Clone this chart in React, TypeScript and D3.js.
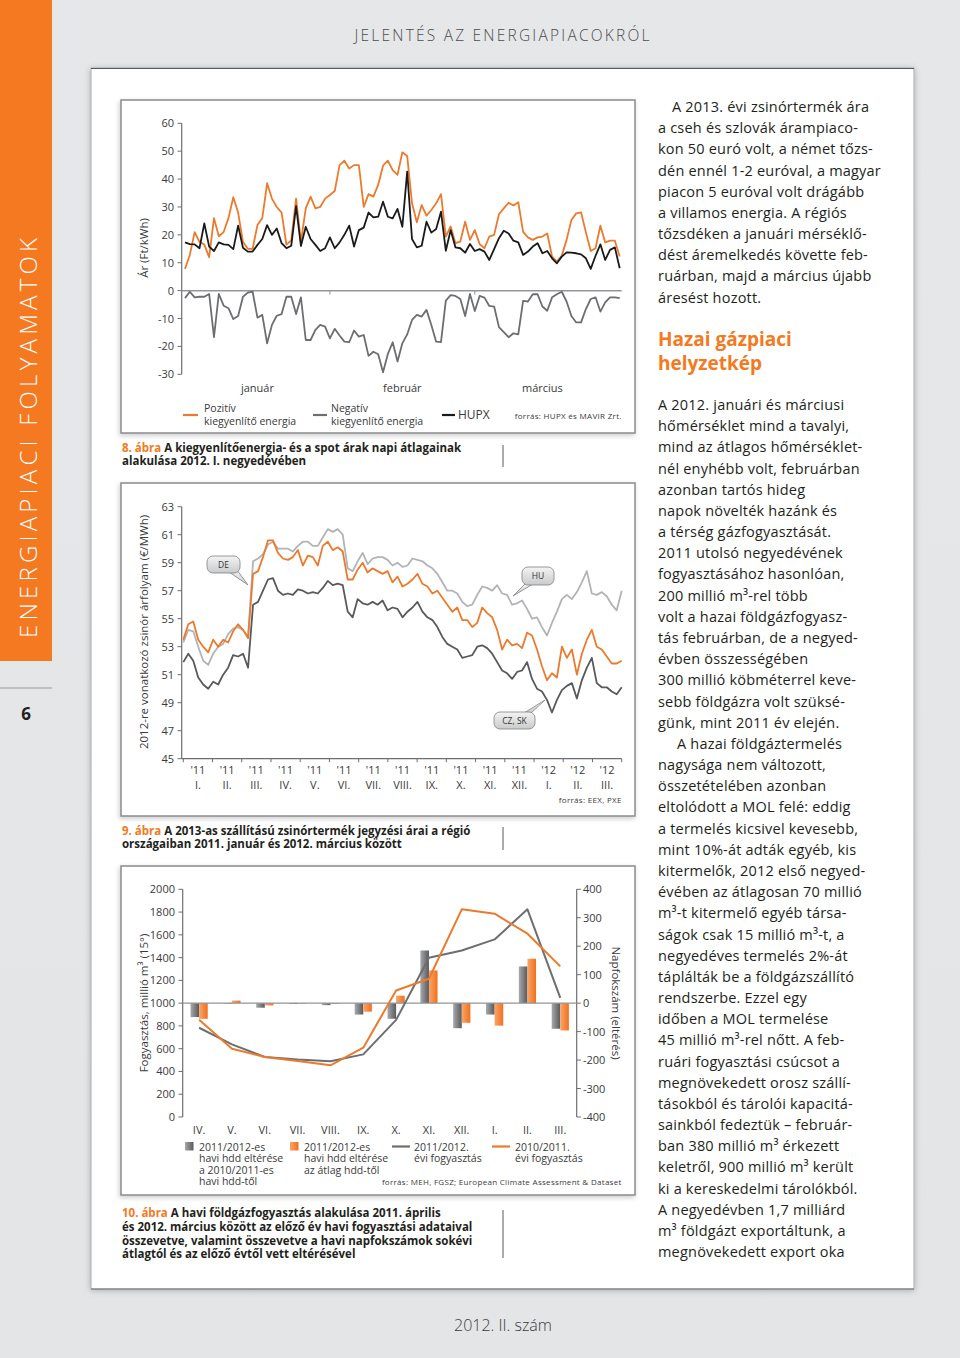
import React from 'react';
import * as d3 from 'd3';

// ---------- Chart 8: daily balancing & spot prices, 2012 Q1 (Ft/kWh) ----------
const pozitiv = [7.8,12.8,21,17.5,16.5,12,26,19.5,21,26,33.5,28,17.5,15,15,23.5,26,38.5,33,30,28,16.5,18,33,17.5,29.5,33.7,29.5,30,33,34.3,35.7,45,46.6,43.8,45,45,30,34.6,33.7,37.9,44.8,46.6,43.2,41.5,49.6,48.3,31.3,24.5,30.7,26.9,28.9,31.3,34.6,19.4,23,17,17.6,24.7,18.2,21.7,16.7,15.2,19.4,20,27.4,29.5,31.5,30.5,31.7,21.1,19.1,18.2,19.1,19.4,20.5,12.2,10.4,12.5,18.2,25.3,27.7,28.1,20.9,14.2,15.2,23.3,17.3,17.9,17.9,12.2];
const hupx = [17.3,16.7,16.6,15.2,24.1,15.8,14.2,17.3,16.6,16.4,14.9,23.3,15.4,14,14,16.4,18.5,23.5,20,22.3,17,15.2,16.1,30.3,16,22.9,18.5,16.4,14.2,15.2,19.1,15.2,17.3,20,23.3,15.8,21.7,22.6,28,26.3,26.5,31.9,26.5,25.9,29.3,22.9,42.7,18.5,15.5,16.1,24.7,20.8,22.1,28.3,14.3,21.7,15.5,15.2,13.6,16.7,14.2,14.9,14,11,14.9,18.8,21.5,20.5,17.9,17.3,12.8,14,15.8,17,13.4,14.2,11.6,9.8,12.2,13.7,13.6,13.4,13,11.6,7.8,12.5,16.6,11,14.6,15.5,8];
const negativ = [-2.7,-0.4,-2.4,-2.2,-2.2,-1.2,-16.7,-1.2,-5.4,-6.3,-10.2,-9.1,-2.2,-0.7,-0.4,-9.7,-8.7,-18.9,-12.3,-9,-8.4,-2.2,-2.2,-8.4,-2.4,-17.7,-17.7,-14.1,-12.3,-12.9,-17.1,-13.7,-16.1,-18.3,-18.5,-14.3,-16.5,-15.9,-23.4,-21.9,-22.8,-29.3,-22.7,-18.5,-25.4,-18.9,-15.7,-10.5,-8.7,-9.3,-6.9,-12.3,-18.3,-18.5,-3.6,-1.6,-1.9,-3,-9.1,-1.2,-7.3,-1.9,-2.5,-5.5,-5.7,-13.1,-14.9,-16.7,-15.3,-15.7,-3.7,-3.9,-1.3,-1.3,-5.7,-7.2,-2.4,-1.3,-0.4,-3.9,-9.1,-11.4,-11.4,-6.6,-3,-2.4,-7.5,-4.2,-2.4,-2.4,-2.7];
const ticks8 = [-30,-20,-10,0,10,20,30,40,50,60];
const monthNames8 = ['január','február','március'];
const monthCenters8 = [15, 45, 74];
const monthBoundaries8 = [30, 60];

// ---------- Chart 9: 2013 baseload futures, Jan 2011 – Mar 2012 (€/MWh) ----------
const deSeries = [53.5,54.6,54.8,53.5,53.0,52.6,53.5,53.0,53.5,53.3,54.1,54.6,54.2,53.6,58.2,58.4,59.4,60.6,60.6,59.7,59.3,59.2,59.4,59.9,58.8,59.5,59.4,58.8,60.2,60.5,59.9,60.1,59.8,57.8,57.8,58.5,59.0,58.3,58.6,58.4,58.2,58.4,57.6,58.0,57.3,57.5,57.8,58.2,57.5,57.3,56.8,57.0,56.5,56.0,55.5,55.8,54.9,54.9,54.4,54.7,55.8,55.4,55.1,54.2,52.8,53.5,53.1,53.2,52.9,54.0,53.8,52.8,51.6,50.6,51.1,50.8,53.0,52.2,52.8,51.0,52.5,53.5,54.2,53.0,52.8,52.3,51.8,51.8,52.0];
const huSeries = [53.3,54.2,54.1,53.0,52.0,51.7,52.5,53.0,53.2,53.9,54.3,54.4,54.2,53.7,59.1,59.3,59.6,60.3,60.5,60.0,60.0,60.0,59.8,60.2,60.5,60.5,60.2,60.2,60.8,61.4,61.2,61.4,61.0,58.6,58.4,59.1,59.7,58.9,59.3,59.4,59.4,59.2,58.8,59.0,58.7,58.8,59.3,59.2,59.1,58.8,58.6,58.2,57.6,57.0,57.0,56.8,56.2,55.9,56.0,56.7,57.3,57.2,57.0,57.4,56.8,56.7,56.0,56.1,56.3,55.7,55.0,55.1,54.4,53.8,54.7,55.5,56.4,56.7,56.4,56.9,57.6,58.4,56.8,56.7,56.9,56.6,56.0,55.6,57.0];
const czskSeries = [51.9,52.5,52.0,50.8,50.3,50.0,50.5,50.3,51.0,51.5,52.4,52.3,52.5,51.5,56.0,56.2,57.0,57.8,57.9,57.0,56.7,56.8,56.7,57.1,57.0,56.8,56.9,56.8,57.2,57.7,57.4,57.5,57.4,55.5,55.1,56.4,56.1,56.0,56.2,56.0,56.3,55.6,55.8,55.7,55.1,55.5,55.8,56.2,55.5,55.1,54.9,54.4,53.7,53.2,53.0,52.8,52.2,52.3,52.4,53.0,53.1,52.9,52.5,51.9,51.3,51.1,50.7,51.2,51.3,51.9,50.7,50.0,49.8,49.2,48.3,49.2,49.9,50.2,50.4,49.3,50.6,51.5,52.2,50.4,50.1,50.1,49.8,49.6,50.1];
const ticks9 = [45,47,49,51,53,55,57,59,61,63];
const yearLabels9 = ["'11","'11","'11","'11","'11","'11","'11","'11","'11","'11","'11","'11","'12","'12","'12"];
const romanLabels9 = ['I.','II.','III.','IV.','V.','VI.','VII.','VIII.','IX.','X.','XI.','XII.','I.','II.','III.'];

// ---------- Chart 10: monthly gas consumption, Apr 2011 – Mar 2012 ----------
const months10 = ['IV.','V.','VI.','VII.','VIII.','IX.','X.','XI.','XII.','I.','II.','III.'];
const hddVsPrev = [-49,-2,-16,-3,-7,-40,-55,185,-88,-40,129,-90];
const hddVsAvg = [-55,9,-8,-2,-3,-30,26,115,-69,-79,156,-96];
const cons1112 = [784,638,527,504,489,550,853,1399,1463,1560,1824,1047];
const cons1011 = [854,600,527,492,454,609,1111,1214,1824,1786,1610,1323];
const ticks10L = [0,200,400,600,800,1000,1200,1400,1600,1800,2000];
const ticks10R = [-400,-300,-200,-100,0,100,200,300,400];

// ---------- Right column text ----------
const para1 = ['A 2013. évi zsinórtermék ára','a cseh és szlovák árampiaco-','kon 50 euró volt, a német tőzs-','dén ennél 1-2 euróval, a magyar','piacon 5 euróval volt drágább','a villamos energia. A régiós','tőzsdéken a januári mérséklő-','dést áremelkedés követte feb-','ruárban, majd a március újabb','áresést hozott.'];
const heading = ['Hazai gázpiaci','helyzetkép'];
const para2 = ['A 2012. januári és márciusi','hőmérséklet mind a tavalyi,','mind az átlagos hőmérséklet-','nél enyhébb volt, februárban','azonban tartós hideg','napok növelték hazánk és','a térség gázfogyasztását.','2011 utolsó negyedévének','fogyasztásához hasonlóan,','200 millió m³-rel több','volt a hazai földgázfogyasz-','tás februárban, de a negyed-','évben összességében','300 millió köbméterrel keve-','sebb földgázra volt szüksé-','günk, mint 2011 év elején.'];
const para3 = ['A hazai földgáztermelés','nagysága nem változott,','összetételében azonban','eltolódott a MOL felé: eddig','a termelés kicsivel kevesebb,','mint 10%-át adták egyéb, kis','kitermelők, 2012 első negyed-','évében az átlagosan 70 millió','m³-t kitermelő egyéb társa-','ságok csak 15 millió m³-t, a','negyedéves termelés 2%-át','táplálták be a földgázszállító','rendszerbe. Ezzel egy','időben a MOL termelése','45 millió m³-rel nőtt. A feb-','ruári fogyasztási csúcsot a','megnövekedett orosz szállí-','tásokból és tárolói kapacitá-','sainkból fedeztük – február-','ban 380 millió m³ érkezett','keletről, 900 millió m³ került','ki a kereskedelmi tárolókból.','A negyedévben 1,7 milliárd','m³ földgázt exportáltunk, a','megnövekedett export oka'];

const FONT = "'Open Sans', 'DejaVu Sans', sans-serif";
const ORANGE = '#f47920';
const LINE_OR = '#ec7a2c';
const TXT = '#231f20';
const AX = '#6d6e71';

function Bubble({ x, y, w, h, tail, label }: { x: number; y: number; w: number; h: number; tail: [number, number][]; label: string }) {
  const tailPath = 'M' + tail.map(p => p.join(',')).join('L') + 'Z';
  return (
    <g>
      <path d={tailPath} fill="url(#bubbleGrad)" stroke="#808285" strokeWidth={0.8} />
      <rect x={x} y={y} width={w} height={h} rx={6} fill="url(#bubbleGrad)" stroke="#808285" strokeWidth={0.8} />
      <text x={x + w / 2} y={y + h / 2 + 3} textAnchor="middle" fontSize={8.5} fill="#333">{label}</text>
    </g>
  );
}

export default function App() {
  // chart 8 scales
  const x8 = d3.scaleLinear().domain([0, pozitiv.length - 1]).range([185, 619.7]);
  const y8 = d3.scaleLinear().domain([-30, 60]).range([374.3, 123.3]);
  const line8 = d3.line<number>().x((_, i) => x8(i)).y(d => y8(d));

  // chart 9 scales
  const x9 = d3.scaleLinear().domain([0, 15]).range([183.3, 621.7]);
  const y9 = d3.scaleLinear().domain([45, 63]).range([758.7, 506.7]);
  const line9 = (arr: number[]) => d3.line<number>().x((_, i) => x9((i * 15) / (arr.length - 1))).y(d => y9(d))(arr) || '';

  // chart 10 scales
  const xb = d3.scaleBand<string>().domain(months10).range([182.7, 576.7]);
  const yL = d3.scaleLinear().domain([0, 2000]).range([1117, 889.3]);
  const yR = d3.scaleLinear().domain([-400, 400]).range([1117, 889.3]);
  const cx = (m: string) => (xb(m) || 0) + xb.bandwidth() / 2;
  const line10 = (arr: number[]) => d3.line<number>().x((_, i) => cx(months10[i])).y(d => yL(d))(arr) || '';
  const barW = 8.6;

  const lh = 21.18;

  return (
    <svg width={960} height={1358} viewBox="0 0 960 1358" style={{ position: 'absolute', left: 0, top: 0, fontFamily: FONT }}>
      <defs>
        <linearGradient id="bgGrad" x1="0" y1="0" x2="0" y2="1">
          <stop offset="0" stopColor="#e6e7e8" />
          <stop offset="1" stopColor="#e4e5e6" />
        </linearGradient>
        <linearGradient id="bubbleGrad" x1="0" y1="0" x2="0" y2="1">
          <stop offset="0" stopColor="#f4f4f4" />
          <stop offset="1" stopColor="#c9cacb" />
        </linearGradient>
        <linearGradient id="greyBar" x1="0" y1="0" x2="1" y2="0">
          <stop offset="0" stopColor="#a7a9ac" />
          <stop offset="1" stopColor="#58595b" />
        </linearGradient>
        <linearGradient id="orangeBar" x1="0" y1="0" x2="1" y2="0">
          <stop offset="0" stopColor="#f9a66a" />
          <stop offset="1" stopColor="#f26f1d" />
        </linearGradient>
        <filter id="shadow" x="-5%" y="-5%" width="110%" height="110%">
          <feDropShadow dx="0" dy="1" stdDeviation="3" floodColor="#000" floodOpacity="0.25" />
        </filter>
        <filter id="shadowS" x="-5%" y="-5%" width="110%" height="110%">
          <feDropShadow dx="-1" dy="2" stdDeviation="2.5" floodColor="#000" floodOpacity="0.2" />
        </filter>
      </defs>

      {/* page background */}
      <rect x={0} y={0} width={960} height={1358} fill="url(#bgGrad)" />
      {/* sidebar */}
      <rect x={0} y={0} width={52} height={661} fill={ORANGE} />
      <text transform="translate(37,638) rotate(-90)" fontSize={24} fill="#fff" fontWeight={300} textLength={400} lengthAdjust="spacing">ENERGIAPIACI FOLYAMATOK</text>
      <line x1={0} x2={52} y1={688} y2={688} stroke="#9a9b9d" strokeWidth={1} />
      <text x={26} y={720} textAnchor="middle" fontSize={17} fontWeight={700} fill={TXT}>6</text>

      {/* header */}
      <text x={502} y={41} textAnchor="middle" fontSize={15.5} fill="#4d4d4f" fontWeight={300} textLength={295} lengthAdjust="spacing">JELENTÉS AZ ENERGIAPIACOKRÓL</text>

      {/* main white panel */}
      <rect x={91} y={68} width={823} height={1221} fill="#fff" stroke="#a7a9ac" strokeWidth={1} filter="url(#shadow)" />
      <line x1={91} x2={914} y1={68.5} y2={68.5} stroke="#58595b" strokeWidth={1.2} />
      <line x1={91} x2={914} y1={1289} y2={1289} stroke="#6d6e71" strokeWidth={1.2} />

      {/* footer */}
      <text x={503} y={1331} textAnchor="middle" fontSize={16} fill="#3a3a3c" fontWeight={300}>2012. II. szám</text>

      {/* ================= Chart 8 ================= */}
      <rect x={121} y={100} width={514} height={333} fill="#fff" stroke="#8a8b8d" strokeWidth={1.5} filter="url(#shadowS)" />
      <g fontSize={11} fill="#3a3a3c">
        <line x1={181.7} x2={181.7} y1={y8(60)} y2={y8(-30)} stroke={AX} strokeWidth={1.2} />
        {ticks8.map(t => (
          <g key={t}>
            <line x1={177.5} x2={181.7} y1={y8(t)} y2={y8(t)} stroke={AX} strokeWidth={1} />
            <text x={174} y={y8(t) + 4} textAnchor="end">{t}</text>
          </g>
        ))}
        <line x1={181.7} x2={621.7} y1={y8(0)} y2={y8(0)} stroke="#939598" strokeWidth={1.5} />
        {monthBoundaries8.map(b => (
          <line key={b} x1={x8(b)} x2={x8(b)} y1={y8(0)} y2={y8(0) + 4} stroke="#939598" strokeWidth={1} />
        ))}
        <text transform={`translate(148,248) rotate(-90)`} textAnchor="middle" fontSize={11.5}>Ár (Ft/kWh)</text>
        {monthNames8.map((m, i) => (
          <text key={m} x={x8(monthCenters8[i])} y={392} textAnchor="middle" fontSize={11}>{m}</text>
        ))}
      </g>
      <path d={line8(negativ) || ''} fill="none" stroke="#6d6e71" strokeWidth={1.8} strokeLinejoin="round" />
      <path d={line8(pozitiv) || ''} fill="none" stroke={LINE_OR} strokeWidth={1.8} strokeLinejoin="round" />
      <path d={line8(hupx) || ''} fill="none" stroke="#1a1a1a" strokeWidth={1.8} strokeLinejoin="round" />
      {/* legend 8 */}
      <g fontSize={10.5} fill="#3a3a3c">
        <line x1={183} x2={198} y1={415} y2={415} stroke={LINE_OR} strokeWidth={2.2} />
        <text x={204} y={412}>Pozitív</text>
        <text x={204} y={425}>kiegyenlítő energia</text>
        <line x1={313} x2={327} y1={415} y2={415} stroke="#6d6e71" strokeWidth={2.2} />
        <text x={331} y={412}>Negatív</text>
        <text x={331} y={425}>kiegyenlítő energia</text>
        <line x1={442} x2={455} y1={415} y2={415} stroke="#1a1a1a" strokeWidth={2.2} />
        <text x={458} y={419} fontSize={12}>HUPX</text>
        <text x={621.7} y={419} textAnchor="end" fontSize={8} letterSpacing={0.3}>forrás: HUPX és MAVIR Zrt.</text>
      </g>
      {/* caption 8 */}
      <g fontSize={11.5} fontWeight={700} fill={TXT}>
        <text x={122} y={452}><tspan fill={ORANGE}>8. ábra</tspan> A kiegyenlítőenergia- és a spot árak napi átlagainak</text>
        <text x={122} y={465}>alakulása 2012. I. negyedévében</text>
      </g>
      <line x1={503} x2={503} y1={445} y2={467} stroke="#58595b" strokeWidth={1} />

      {/* ================= Chart 9 ================= */}
      <rect x={121} y={483} width={514} height={333} fill="#fff" stroke="#8a8b8d" strokeWidth={1.5} filter="url(#shadowS)" />
      <g fontSize={11} fill="#3a3a3c">
        <line x1={181.7} x2={181.7} y1={y9(63)} y2={y9(45)} stroke={AX} strokeWidth={1.2} />
        {ticks9.map(t => (
          <g key={t}>
            <line x1={177.5} x2={181.7} y1={y9(t)} y2={y9(t)} stroke={AX} strokeWidth={1} />
            <text x={174} y={y9(t) + 4} textAnchor="end">{t}</text>
          </g>
        ))}
        <line x1={181.7} x2={621.7} y1={y9(45)} y2={y9(45)} stroke={AX} strokeWidth={1.2} />
        {d3.range(0, 16).map(m => (
          <line key={m} x1={x9(m)} x2={x9(m)} y1={y9(45)} y2={y9(45) + 3.5} stroke={AX} strokeWidth={1} />
        ))}
        {romanLabels9.map((r, i) => (
          <g key={i}>
            <text x={x9(i + 0.5)} y={774} textAnchor="middle">{yearLabels9[i]}</text>
            <text x={x9(i + 0.5)} y={789} textAnchor="middle">{r}</text>
          </g>
        ))}
        <text x={621.7} y={803} textAnchor="end" fontSize={8} letterSpacing={0.3}>forrás: EEX, PXE</text>
        <text transform={`translate(148,632) rotate(-90)`} textAnchor="middle" fontSize={11.5}>2012-re vonatkozó zsinór árfolyam (€/MWh)</text>
      </g>
      <path d={line9(huSeries)} fill="none" stroke="#b1b3b6" strokeWidth={1.8} strokeLinejoin="round" />
      <path d={line9(czskSeries)} fill="none" stroke="#58595b" strokeWidth={1.8} strokeLinejoin="round" />
      <path d={line9(deSeries)} fill="none" stroke={LINE_OR} strokeWidth={1.8} strokeLinejoin="round" />
      <Bubble x={207} y={556} w={33} h={17} tail={[[229, 572], [237, 570], [248, 585]]} label="DE" />
      <Bubble x={522} y={567} w={32} h={18} tail={[[526, 583], [533, 584], [513, 596]]} label="HU" />
      <Bubble x={494} y={712} w={41} h={17} tail={[[524, 713], [531, 713], [545, 700]]} label="CZ, SK" />
      {/* caption 9 */}
      <g fontSize={11.5} fontWeight={700} fill={TXT}>
        <text x={122} y={835}><tspan fill={ORANGE}>9. ábra</tspan> A 2013-as szállítású zsinórtermék jegyzési árai a régió</text>
        <text x={122} y={848}>országaiban 2011. január és 2012. március között</text>
      </g>
      <line x1={503} x2={503} y1={827} y2={850} stroke="#58595b" strokeWidth={1} />

      {/* ================= Chart 10 ================= */}
      <rect x={121} y={866} width={514} height={329} fill="#fff" stroke="#8a8b8d" strokeWidth={1.5} filter="url(#shadowS)" />
      <g fontSize={11} fill="#3a3a3c">
        <line x1={182.7} x2={182.7} y1={yL(2000)} y2={yL(0)} stroke={AX} strokeWidth={1.2} />
        {ticks10L.map(t => (
          <g key={t}>
            <line x1={178.5} x2={182.7} y1={yL(t)} y2={yL(t)} stroke={AX} strokeWidth={1} />
            <text x={175} y={yL(t) + 4} textAnchor="end">{t}</text>
          </g>
        ))}
        <line x1={576.7} x2={576.7} y1={yR(400)} y2={yR(-400)} stroke={AX} strokeWidth={1.2} />
        {ticks10R.map(t => (
          <g key={t}>
            <line x1={576.7} x2={580.9} y1={yR(t)} y2={yR(t)} stroke={AX} strokeWidth={1} />
            <text x={583} y={yR(t) + 4} textAnchor="start">{t}</text>
          </g>
        ))}
        {months10.map(m => (
          <text key={m} x={cx(m)} y={1134} textAnchor="middle">{m}</text>
        ))}
        <text transform={`translate(148,1003) rotate(-90)`} textAnchor="middle" fontSize={11.5}>Fogyasztás, millió m³ (15°)</text>
        <text transform={`translate(612,1003) rotate(90)`} textAnchor="middle" fontSize={11.5}>Napfokszám (eltérés)</text>
      </g>
      {months10.map((m, i) => (
        <g key={m}>
          <rect x={cx(m) - barW} width={barW} y={Math.min(yR(0), yR(hddVsPrev[i]))} height={Math.abs(yR(hddVsPrev[i]) - yR(0))} fill="url(#greyBar)" />
          <rect x={cx(m)} width={barW} y={Math.min(yR(0), yR(hddVsAvg[i]))} height={Math.abs(yR(hddVsAvg[i]) - yR(0))} fill="url(#orangeBar)" />
        </g>
      ))}
      <line x1={182.7} x2={576.7} y1={yR(0)} y2={yR(0)} stroke="#939598" strokeWidth={1.3} />
      <path d={line10(cons1112)} fill="none" stroke="#6d6e71" strokeWidth={2} strokeLinejoin="round" />
      <path d={line10(cons1011)} fill="none" stroke={LINE_OR} strokeWidth={2} strokeLinejoin="round" />
      {/* legend 10 */}
      <g fontSize={10.5} fill="#3a3a3c">
        <rect x={185} y={1142} width={8.5} height={8.5} fill="url(#greyBar)" />
        {['2011/2012-es', 'havi hdd eltérése', 'a 2010/2011-es', 'havi hdd-től'].map((t, i) => (
          <text key={t} x={199} y={1151 + i * 11.4}>{t}</text>
        ))}
        <rect x={290} y={1142} width={8.5} height={8.5} fill="url(#orangeBar)" />
        {['2011/2012-es', 'havi hdd eltérése', 'az átlag hdd-től'].map((t, i) => (
          <text key={t} x={304} y={1151 + i * 11.4}>{t}</text>
        ))}
        <line x1={392} x2={410} y1={1146.5} y2={1146.5} stroke="#6d6e71" strokeWidth={2.2} />
        {['2011/2012.', 'évi fogyasztás'].map((t, i) => (
          <text key={t} x={414} y={1151 + i * 11.4}>{t}</text>
        ))}
        <line x1={492} x2={510} y1={1146.5} y2={1146.5} stroke={LINE_OR} strokeWidth={2.2} />
        {['2010/2011.', 'évi fogyasztás'].map((t, i) => (
          <text key={t} x={515} y={1151 + i * 11.4}>{t}</text>
        ))}
        <text x={621.7} y={1185} textAnchor="end" fontSize={8} letterSpacing={0.3}>forrás: MEH, FGSZ; European Climate Assessment &amp; Dataset</text>
      </g>
      {/* caption 10 */}
      <g fontSize={11.5} fontWeight={700} fill={TXT}>
        <text x={122} y={1217}><tspan fill={ORANGE}>10. ábra</tspan> A havi földgázfogyasztás alakulása 2011. április</text>
        <text x={122} y={1231}>és 2012. március között az előző év havi fogyasztási adataival</text>
        <text x={122} y={1245}>összevetve, valamint összevetve a havi napfokszámok sokévi</text>
        <text x={122} y={1258}>átlagtól és az előző évtől vett eltérésével</text>
      </g>
      <line x1={503} x2={503} y1={1210} y2={1258} stroke="#58595b" strokeWidth={1} />

      {/* ================= Right column text ================= */}
      <g fontSize={14.5} fill={TXT} letterSpacing={0.2}>
        {para1.map((t, i) => (
          <text key={'p1' + i} x={i === 0 ? 672 : 658} y={112 + i * lh}>{t}</text>
        ))}
        {heading.map((t, i) => (
          <text key={'h' + i} x={658} y={346 + i * 24} fontSize={19} fontWeight={700} fill={ORANGE} letterSpacing={0}>{t}</text>
        ))}
        {para2.map((t, i) => (
          <text key={'p2' + i} x={658} y={410 + i * lh}>{t}</text>
        ))}
        {para3.map((t, i) => (
          <text key={'p3' + i} x={i === 0 ? 677 : 658} y={410 + (para2.length + i) * lh}>{t}</text>
        ))}
      </g>
    </svg>
  );
}
